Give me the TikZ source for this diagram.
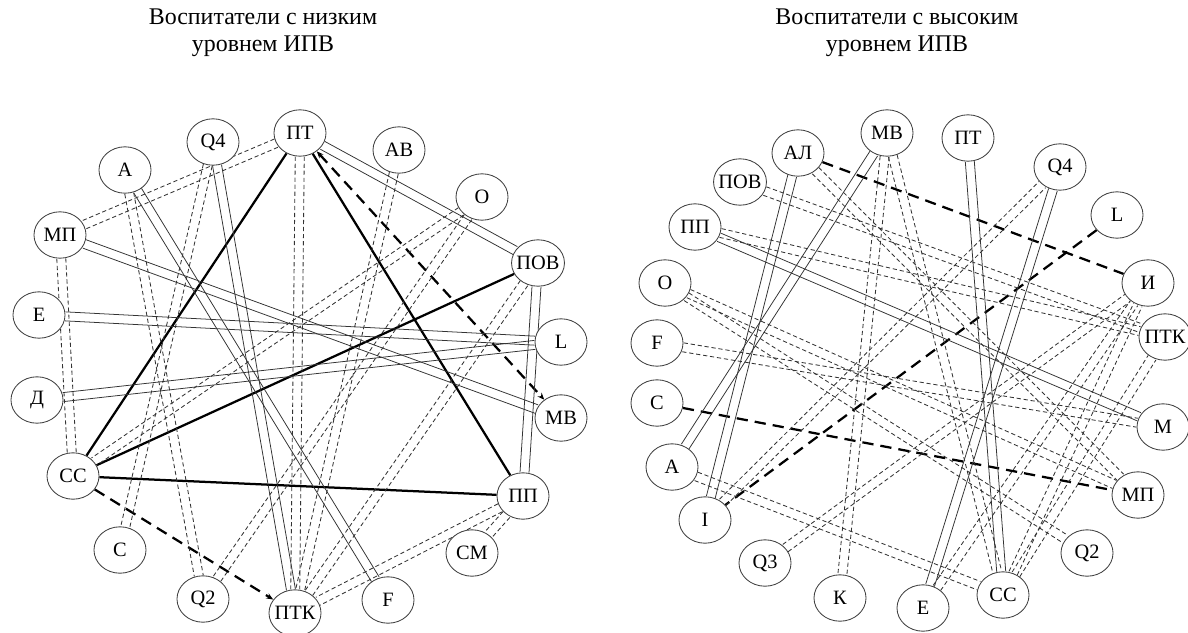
\documentclass[tikz,border=0pt]{standalone}
\usepackage{fontspec}
\setmainfont{Liberation Serif}
\usetikzlibrary{arrows.meta,calc,shapes,backgrounds}
\tikzset{
    mynode/.style={ellipse, draw=black!75, line width=0.6pt, fill=white, minimum width=37pt, minimum height=33pt, inner xsep=-2pt, inner ysep=0pt, font=\fontsize{14.5}{16}\selectfont},
    thinline/.style={draw=black!80, line width=0.55pt},
    dashline/.style={draw=black!80, line width=0.6pt, dash pattern=on 3pt off 2pt},
    boldline/.style={draw=black, line width=1.6pt},
    bolddash/.style={draw=black, line width=1.6pt, dash pattern=on 8pt off 5pt},
    mylabel/.style={align=center, font=\fontsize{17}{19.5}\selectfont}
}
\newcommand{\pairgap}{3.2pt}
% two parallel lines between two nodes
\newcommand{\twolines}[3]{%
  \draw[#1, transform canvas={shift={($(#2)!\pairgap!90:(#3)-(#2)$)}}] (#2) -- (#3);
  \draw[#1, transform canvas={shift={($(#2)!\pairgap!-90:(#3)-(#2)$)}}] (#2) -- (#3);
}
\begin{document}
\begin{tikzpicture}[x=0.025cm, y=-0.025cm]
    \useasboundingbox (0,0) rectangle (1188,632);
    \node[mylabel] (ltitle) at (263,33) {Воспитатели с низким\\уровнем ИПВ};
    \node[mylabel] (rtitle) at (897,33) {Воспитатели с высоким\\уровнем ИПВ};

    % left circle
    \node[mynode] (lPT)  at (300,133) {ПТ};
    \node[mynode] (lQ4)  at (213,142) {Q4};
    \node[mynode] (lA)   at (125,170) {А};
    \node[mynode] (lAV)  at (399,150) {АВ};
    \node[mynode] (lO)   at (482,197) {О};
    \node[mynode] (lMP)  at (60,235)  {МП};
    \node[mynode] (lPOV) at (538,263) {ПОВ};
    \node[mynode] (lE)   at (39,315)  {Е};
    \node[mynode] (lL)   at (561,342) {L};
    \node[mynode] (lD)   at (37,400)  {Д};
    \node[mynode] (lMV)  at (561,418) {МВ};
    \node[mynode] (lSS)  at (73,476)  {СС};
    \node[mynode] (lPP)  at (523,496) {ПП};
    \node[mynode] (lC)   at (120,550) {С};
    \node[mynode] (lSM)  at (472,553) {СМ};
    \node[mynode] (lQ2)  at (203,599) {Q2};
    \node[mynode] (lPTK) at (295,613) {ПТК};
    \node[mynode] (lF)   at (388,600) {F};

    % right circle
    \node[mynode] (rMV)  at (887,133)  {МВ};
    \node[mynode] (rAL)  at (798,153)  {АЛ};
    \node[mynode] (rPT)  at (968,138)  {ПТ};
    \node[mynode] (rQ4)  at (1060,167) {Q4};
    \node[mynode] (rPOV) at (740,182)  {ПОВ};
    \node[mynode] (rL)   at (1117,215) {L};
    \node[mynode] (rPP)  at (695,227)  {ПП};
    \node[mynode] (rIi)  at (1148,283) {И};
    \node[mynode] (rO)   at (665,283)  {О};
    \node[mynode] (rPTK) at (1165,337) {ПТК};
    \node[mynode] (rF)   at (657,343)  {F};
    \node[mynode] (rC)   at (657,403)  {С};
    \node[mynode] (rM)   at (1163,427) {М};
    \node[mynode] (rA)   at (672,467)  {А};
    \node[mynode] (rMP)  at (1138,495) {МП};
    \node[mynode] (rIl)  at (705,520)  {I};
    \node[mynode] (rQ2)  at (1087,553) {Q2};
    \node[mynode] (rQ3)  at (765,563)  {Q3};
    \node[mynode] (rK)   at (840,598)  {К};
    \node[mynode] (rE)   at (923,608)  {Е};
    \node[mynode] (rSS)  at (1003,595) {СС};

    \begin{scope}[on background layer]
    % left links
    \draw[boldline] (lPT) -- (lSS);
    \draw[boldline] (lPT) -- (lPP);
    \draw[boldline] (lSS) -- (lPOV);
    \draw[boldline] (lSS) -- (lPP);
    \draw[bolddash, {Stealth[length=5pt,width=4pt]}-{Stealth[length=5pt,width=4pt]}] (lPT) -- (lMV);
    \draw[bolddash, -{Stealth[length=5pt,width=4pt]}] (lSS) -- (lPTK);
    \twolines{thinline}{lPT}{lPOV}
    \twolines{thinline}{lMP}{lMV}
    \twolines{thinline}{lE}{lL}
    \twolines{thinline}{lD}{lL}
    \twolines{thinline}{lA}{lF}
    \twolines{thinline}{lQ4}{lPTK}
    \twolines{thinline}{lPOV}{lPP}
    \twolines{dashline}{lPT}{lMP}
    \twolines{dashline}{lPT}{lPTK}
    \twolines{dashline}{lMP}{lSS}
    \twolines{dashline}{lA}{lQ2}
    \twolines{dashline}{lQ4}{lC}
    \twolines{dashline}{lAV}{lPTK}
    \twolines{dashline}{lO}{lSS}
    \twolines{dashline}{lO}{lQ2}
    \twolines{dashline}{lPOV}{lPTK}
    \twolines{dashline}{lPP}{lPTK}
    \twolines{dashline}{lPP}{lSM}

    % right links
    \draw[bolddash] (rAL) -- (rIi);
    \draw[bolddash] (rL) -- (rIl);
    \draw[bolddash] (rC) -- (rMP);
    \twolines{thinline}{rAL}{rIl}
    \twolines{thinline}{rMV}{rA}
    \twolines{thinline}{rPP}{rM}
    \twolines{thinline}{rPT}{rSS}
    \twolines{thinline}{rQ4}{rE}
    \twolines{dashline}{rAL}{rMP}
    \twolines{dashline}{rMV}{rK}
    \twolines{dashline}{rMV}{rSS}
    \twolines{dashline}{rPOV}{rPTK}
    \twolines{dashline}{rPP}{rPTK}
    \twolines{dashline}{rO}{rMP}
    \twolines{dashline}{rO}{rQ2}
    \twolines{dashline}{rF}{rM}
    \twolines{dashline}{rA}{rSS}
    \twolines{dashline}{rIl}{rQ4}
    \twolines{dashline}{rQ3}{rIi}
    \twolines{dashline}{rE}{rIi}
    \twolines{dashline}{rSS}{rIi}
    \twolines{dashline}{rSS}{rPTK}
    \end{scope}
\end{tikzpicture}
\end{document}
